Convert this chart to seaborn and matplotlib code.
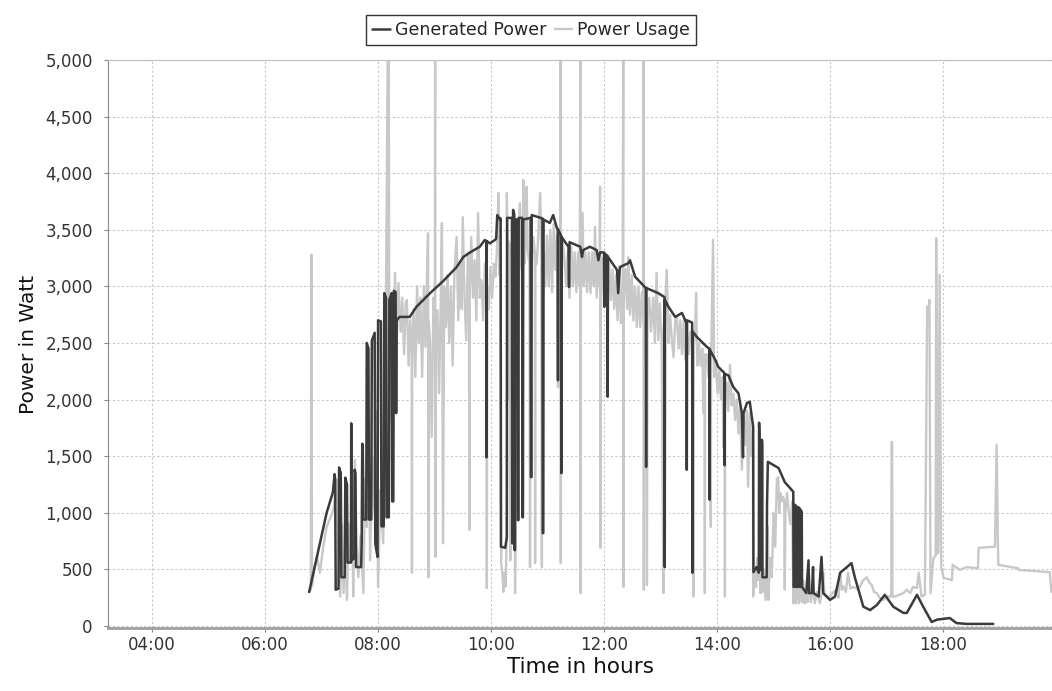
import pandas as pd
import seaborn as sns
import matplotlib.pyplot as plt
from matplotlib.ticker import FuncFormatter, MultipleLocator

# time in decimal hours, power in W
gen_time = [6.78, 7.09, 7.20, 7.23, 7.24, 7.25, 7.30, 7.31, 7.34, 7.35, 7.41, 7.42, 7.45, 7.46,
            7.52, 7.525, 7.53, 7.58, 7.585, 7.60, 7.61, 7.70, 7.71, 7.72, 7.73, 7.74, 7.79, 7.80,
            7.83, 7.84, 7.88, 7.89, 7.94, 7.95, 7.99, 8.00, 8.05, 8.06, 8.10, 8.11, 8.14, 8.15,
            8.19, 8.20, 8.24, 8.25, 8.27, 8.28, 8.31, 8.32, 8.33, 8.38,
            8.44, 8.56, 8.68, 8.74, 8.92, 9.16, 9.39, 9.51, 9.63, 9.80, 9.89, 9.915, 9.92, 9.925,
            9.98, 10.07, 10.09, 10.11, 10.16, 10.17, 10.175, 10.25, 10.28, 10.285, 10.37, 10.375,
            10.385, 10.39, 10.41, 10.415, 10.425, 10.43, 10.47, 10.475, 10.485, 10.49, 10.55,
            10.555, 10.565, 10.57, 10.70, 10.705, 10.715, 10.72, 10.91, 10.915, 10.925, 10.93,
            11.04, 11.10, 11.16, 11.18, 11.185, 11.19, 11.24, 11.245, 11.25, 11.37, 11.38, 11.39,
            11.58, 11.61, 11.63, 11.75, 11.87, 11.90, 11.93, 12.00, 12.005, 12.01, 12.06, 12.065,
            12.07, 12.23, 12.25, 12.28, 12.43, 12.46, 12.55, 12.74, 12.745, 12.75, 12.96, 13.07,
            13.075, 13.08, 13.14, 13.26, 13.38, 13.46, 13.465, 13.47, 13.56, 13.565, 13.57, 13.64,
            13.73, 13.82, 13.865, 13.87, 13.875, 13.97, 14.02, 14.13, 14.135, 14.14, 14.20, 14.29,
            14.38, 14.44, 14.46, 14.47, 14.53, 14.58, 14.64, 14.645, 14.70, 14.74, 14.745, 14.75,
            14.755, 14.79, 14.795, 14.80, 14.805, 14.88, 14.885, 14.90, 15.09, 15.20, 15.29, 15.35,
            15.355, 15.37, 15.375, 15.40, 15.405, 15.43, 15.435, 15.46, 15.465, 15.48, 15.485,
            15.50, 15.505, 15.58, 15.62, 15.63, 15.68, 15.70, 15.71, 15.80, 15.85, 15.88, 16.00,
            16.09, 16.18, 16.30, 16.38, 16.44, 16.59, 16.71, 16.83, 16.97, 17.12, 17.30, 17.36,
            17.54, 17.65, 17.80, 17.89, 18.12, 18.24, 18.42, 18.89]
gen_power = [300, 1000, 1180, 1340, 1300, 320, 330, 1400, 1350, 430, 430, 1310, 1250, 560,
             560, 1790, 580, 600, 1380, 1350, 520, 520, 730, 1610, 1600, 940, 940, 2500,
             2450, 940, 940, 2520, 2590, 730, 610, 2700, 2690, 880, 880, 2940, 2900, 960,
             960, 2880, 2940, 1100, 1100, 2960, 2950, 1880, 2700, 2730,
             2730, 2730, 2820, 2850, 2940, 3050, 3170, 3260, 3300, 3350, 3410, 3400, 1490, 3400,
             3380, 3410, 3420, 3630, 3590, 3600, 700, 690, 785, 3605, 3605, 730,
             730, 3675, 3640, 670, 670, 3590, 3590, 935, 935, 3605, 3605,
             960, 960, 3590, 3605, 1315, 1315, 3630, 3600, 820, 820, 3590,
             3560, 3630, 3525, 3500, 2170, 3500, 3450, 1350, 3435, 3350, 2995, 3390,
             3350, 3260, 3320, 3350, 3320, 3230, 3300, 3300, 2820, 3290, 3270, 2025,
             3260, 3145, 2940, 3170, 3205, 3230, 3085, 2985, 1405, 2985, 2940, 2905,
             520, 2880, 2820, 2730, 2765, 2675, 1380, 2700, 2680, 470, 2600, 2555,
             2510, 2465, 2450, 1115, 2440, 2350, 2290, 2235, 1420, 2225, 2215, 2110,
             2055, 1880, 1490, 1880, 1970, 1980, 1760, 475, 520, 470, 1795, 1700,
             495, 495, 1645, 1600, 430, 430, 1070, 1450, 1395, 1270, 1220, 1185,
             345, 345, 1070, 1060, 345, 345, 1050, 1040, 345, 345, 1025,
             1000, 345, 290, 580, 290, 290, 520, 290, 260, 610, 290, 230,
             260, 470, 520, 555, 430, 170, 140, 185, 275, 170, 115, 115,
             275, 170, 35, 55, 70, 25, 18, 18]

use_time = [6.78, 6.81, 6.82, 6.83, 6.87, 6.92, 6.97, 7.03, 7.09, 7.15, 7.21, 7.27, 7.30, 7.33,
            7.36, 7.39, 7.42, 7.45, 7.48, 7.50, 7.54, 7.56, 7.59, 7.62, 7.65, 7.69, 7.74, 7.77,
            7.80, 7.83, 7.86, 7.90, 7.94, 7.97, 8.00, 8.04, 8.09, 8.12, 8.17, 8.18, 8.19, 8.20,
            8.24, 8.27, 8.30, 8.33, 8.36,
            8.40, 8.43, 8.46, 8.49, 8.51, 8.54, 8.57, 8.595, 8.60, 8.605, 8.63, 8.66, 8.69, 8.72,
            8.75, 8.78, 8.81, 8.84, 8.87, 8.885, 8.89, 8.895, 8.92, 8.95, 8.98, 9.005, 9.01, 9.015,
            9.02, 9.05, 9.08, 9.11, 9.13, 9.15, 9.17, 9.20, 9.23, 9.26, 9.29, 9.32, 9.35, 9.39,
            9.42, 9.45, 9.48, 9.50, 9.53, 9.56, 9.59, 9.61, 9.615, 9.62, 9.65, 9.68, 9.71, 9.74,
            9.77, 9.80, 9.83, 9.86, 9.89, 9.92, 9.925, 9.93, 9.935, 9.96, 9.99, 10.02, 10.05, 10.08,
            10.11, 10.13, 10.15,
            10.17, 10.18, 10.20, 10.22, 10.24, 10.26, 10.275, 10.28, 10.29, 10.30, 10.31, 10.335,
            10.34, 10.345, 10.37, 10.38, 10.39, 10.42, 10.425, 10.43, 10.44, 10.47, 10.48, 10.51,
            10.53, 10.56, 10.57, 10.59, 10.61, 10.63, 10.65, 10.68, 10.69, 10.70, 10.72, 10.75,
            10.775, 10.78, 10.785, 10.81, 10.84, 10.87, 10.89, 10.90, 10.91,
            10.93, 10.96, 10.99, 11.02, 11.05, 11.08, 11.11, 11.14, 11.17, 11.185, 11.20, 11.225,
            11.23, 11.235, 11.24, 11.27, 11.30, 11.33, 11.36, 11.39, 11.42, 11.45, 11.48, 11.51,
            11.54, 11.57, 11.58, 11.585, 11.59, 11.62, 11.64, 11.67, 11.70, 11.73, 11.76, 11.79,
            11.82, 11.84, 11.87, 11.90, 11.92, 11.93, 11.935, 11.94, 11.97, 12.00, 12.03, 12.06,
            12.09, 12.12, 12.15, 12.18, 12.21, 12.24, 12.27, 12.30, 12.33, 12.34, 12.345, 12.35,
            12.38, 12.41, 12.43, 12.46, 12.49, 12.52, 12.55, 12.58, 12.61, 12.64, 12.67, 12.695,
            12.70, 12.705, 12.71, 12.74, 12.755, 12.76, 12.77, 12.80, 12.83, 12.87, 12.90, 12.93,
            12.96, 12.99, 13.02, 13.05, 13.055, 13.08, 13.11, 13.14, 13.17, 13.20, 13.23, 13.26,
            13.29, 13.32, 13.35, 13.38, 13.41, 13.44, 13.47, 13.50, 13.53, 13.575, 13.58, 13.585,
            13.61, 13.63, 13.65, 13.68, 13.71, 13.74, 13.76, 13.78, 13.785, 13.79, 13.82, 13.85,
            13.88, 13.89, 13.895, 13.93, 13.95, 13.98, 14.01, 14.04, 14.07, 14.10, 14.11, 14.135,
            14.14, 14.145, 14.17, 14.20, 14.23, 14.26, 14.29, 14.32, 14.35, 14.38, 14.41, 14.44,
            14.47, 14.50, 14.53, 14.55, 14.58, 14.61, 14.635, 14.64,
            14.67, 14.69, 14.71, 14.73, 14.75, 14.77, 14.79, 14.81, 14.83, 14.86, 14.88, 14.90,
            14.91, 14.94, 14.97, 15.00, 15.03, 15.06, 15.085, 15.10, 15.12, 15.14, 15.17, 15.19,
            15.20, 15.21, 15.24, 15.27, 15.30, 15.33, 15.35,
            15.38, 15.40, 15.43, 15.45, 15.48, 15.50, 15.53, 15.55, 15.58, 15.60, 15.63, 15.66,
            15.70, 15.73, 15.77, 15.82, 15.86, 15.88, 15.90, 15.94, 16.00, 16.06, 16.12, 16.15,
            16.18, 16.21, 16.24, 16.28, 16.32, 16.36, 16.41, 16.47, 16.53, 16.58, 16.65, 16.70,
            16.74, 16.78, 16.83, 16.88, 16.94, 17.02, 17.085, 17.09, 17.10, 17.105, 17.15,
            17.30, 17.36, 17.42, 17.47, 17.54, 17.57, 17.62, 17.68, 17.72, 17.74, 17.76, 17.78,
            17.83, 17.87, 17.88, 17.90, 17.92, 17.94, 17.97, 18.01, 18.16, 18.17, 18.30, 18.42,
            18.62, 18.63, 18.92, 18.95, 18.97, 18.98, 19.33, 19.34, 19.89, 19.92]
use_power = [300, 320, 3280, 350, 500, 610, 470, 700, 875, 950, 1025, 1290, 700, 260,
             900, 290, 700, 230, 900, 580, 1100, 260, 1465, 700, 430, 800, 290, 1300,
             875, 1800, 580, 1500, 1000, 1900, 345, 1200, 730, 1500, 5000, 1200, 5000, 1800,
             2600, 2300, 3120, 2500, 3030,
             2600, 2900, 2400, 2850, 2880, 2300, 2700, 2400, 470, 2400, 2800, 2200, 3000, 2500,
             2900, 2200, 3000, 2465, 3200, 3470, 430, 2700, 2500, 1670, 2900, 2700, 5000, 610,
             2500, 2790, 2055, 2900, 3560, 730, 3000, 2640, 3100, 2500, 3000, 2300, 3100, 3435,
             2700, 3200, 2800, 3610, 2900, 2525, 3300, 2900, 850, 2900, 3435, 2900, 3230, 2700,
             3650, 2900, 3055, 2700, 3200, 3000, 335, 1490, 3000, 2800, 3170, 2900, 3200, 3085,
             3400, 3825, 3100,
             3300, 555, 470, 300, 470, 350, 800, 3825, 3200, 2000, 3400, 3300,
             580, 3200, 3400, 1200, 3300, 3200, 290, 730, 3300, 3200, 3400, 3735,
             3200, 3100, 3940, 3200, 3400, 3880, 3300, 3200, 520, 3300, 3200, 3435,
             3300, 555, 3300, 3200, 3500, 3825, 3300, 520, 3300,
             3300, 3000, 3450, 3000, 3500, 2950, 3550, 3145, 3450, 2110, 3400, 3100,
             5000, 555, 3000, 3400, 3230, 3000, 3300, 2900, 3350, 3000, 3300, 2950,
             3300, 3000, 5000, 290, 3000, 3650, 3000, 3300, 2950, 3300, 2940, 3300,
             3000, 3525, 2900, 3250, 3000, 3880, 690, 3000, 3250, 2820, 3250, 2850,
             3200, 2880, 3150, 2800, 3100, 2700, 3100, 2675, 3100, 5000, 345, 2900,
             3150, 2800, 3260, 2750, 3100, 2700, 3000, 2640, 3000, 2640, 2950, 2700,
             5000, 320, 2700, 2900, 935, 360, 2700, 2900, 2600, 2900, 2500, 3120,
             2525, 2850, 2500, 290, 2600, 2800, 3145, 2500, 2750, 2525, 2375, 2700,
             2730, 2450, 2700, 2400, 2700, 2350, 2600, 2400, 2600, 2550, 260, 2500,
             2550, 2940, 2300, 2500, 2300, 2450, 1880, 2400, 290, 2300, 2400, 2200,
             2400, 875, 2300, 3410, 2200, 2300, 2055, 2250, 2000, 2200, 1580, 2150,
             260, 2100, 2150, 1900, 2305, 1950, 2050, 1820, 2000, 1700, 1950, 1380,
             1850, 1600, 1900, 1230, 1880, 1500, 1700, 260,
             500, 345, 600, 405, 700, 290, 600, 300, 500, 230, 500, 875,
             230, 600, 430, 1000, 700, 1300, 1315, 1000, 1175, 1100, 1140, 1100,
             320, 1000, 1175, 1000, 900, 1100, 200,
             600, 200, 500, 200, 450, 210, 400, 200, 300, 210, 450, 210,
             350, 200, 300, 200, 300, 470, 290, 260, 260, 300, 320, 250,
             470, 320, 350, 300, 470, 330, 345, 330, 345, 400, 430, 380,
             360, 300, 290, 250, 230, 260, 260, 1625, 1625, 260, 260,
             290, 320, 290, 345, 335, 470, 260, 275, 2820, 2780, 2880, 290,
             600, 620, 3425, 640, 655, 3100, 520, 425, 405, 540, 495, 520,
             510, 690, 700, 1600, 775, 540, 510, 495, 475, 300]

x_ticks = [4, 6, 8, 10, 12, 14, 16, 18]
series_names = ["Generated Power", "Power Usage"]
series_colors = ["#3b3b3b", "#c8c8c8"]

gen = pd.DataFrame({"time": gen_time, "power": gen_power})
use = pd.DataFrame({"time": use_time, "power": use_power})

sns.set_style("white")
plt.rcParams["font.family"] = ["DejaVu Sans"]

fig = plt.figure(figsize=(10.52, 6.91), dpi=100)
ax = fig.add_axes([0.1027, 0.0912, 0.8973, 0.8220])

sns.lineplot(data=use, x="time", y="power", color=series_colors[1], lw=1.7,
             estimator=None, sort=False, ax=ax, label=series_names[1])
sns.lineplot(data=gen, x="time", y="power", color=series_colors[0], lw=1.8,
             estimator=None, sort=False, ax=ax, label=series_names[0])

ax.set_xlim(3.22, 19.93)
ax.set_ylim(-18, 5000)
ax.set_xticks(x_ticks)
ax.xaxis.set_major_formatter(FuncFormatter(lambda v, p: "%02d:00" % int(v)))
ax.yaxis.set_major_locator(MultipleLocator(500))
ax.yaxis.set_major_formatter(FuncFormatter(lambda v, p: "{:,.0f}".format(v)))
ax.grid(True, color="#c8c8c8", linestyle=(0, (2, 2)), lw=0.8)
ax.tick_params(axis="both", labelsize=12, length=3, color="#888888", labelcolor="#333333",
               left=True, bottom=True)
ax.tick_params(axis="x", pad=3)
ax.tick_params(axis="y", pad=8)

ax.spines["top"].set_color("#c0c0c0")
ax.spines["right"].set_visible(False)
ax.spines["left"].set_color("#8a8a8a")
ax.spines["bottom"].set_color("#a0a0a0")
ax.spines["bottom"].set_linewidth(2)

ax.set_xlabel("Time in hours", fontsize=15.5, labelpad=2, color="#111111")
ax.set_ylabel("Power in Watt", fontsize=14.5, labelpad=5, color="#111111")

ax.get_legend().remove()
handles, labels = ax.get_legend_handles_labels()
order = [1, 0]
leg = fig.legend([handles[i] for i in order], [labels[i] for i in order],
                 loc="upper center", bbox_to_anchor=(0.505, 0.979), ncol=2,
                 prop={"size": 12.5}, frameon=True, fancybox=False, edgecolor="black",
                 handlelength=1.0, handletextpad=0.3, columnspacing=0.5,
                 borderpad=0.35, borderaxespad=0)
leg.get_frame().set_linewidth(1.0)

fig.savefig("out.png", dpi=100)
